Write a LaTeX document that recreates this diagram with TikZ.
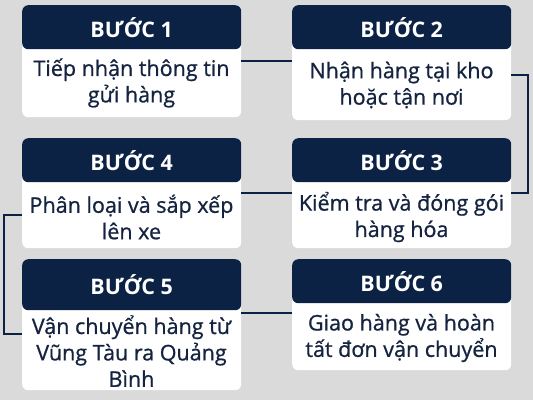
\documentclass[tikz,border=0pt]{standalone}
\usepackage{fontspec}
\setmainfont{Open Sans}
\newfontfamily\medfont{Open Sans}[FakeBold=0.8]
\definecolor{bg}{HTML}{DADADA}
\definecolor{navy}{HTML}{0B2245}
\definecolor{ink}{HTML}{14233F}
\begin{document}
\begin{tikzpicture}[x=1bp,y=-1bp,
  card/.style={fill=white,rounded corners=6bp,draw=none,inner sep=0pt,minimum width=219bp,anchor=north west},
  head/.style={fill=navy,rounded corners=6bp,draw=none,inner sep=0pt,minimum width=219bp,anchor=north west,
    text=white,font=\fontsize{21.5}{24}\selectfont\bfseries},
  bodytext/.style={align=center,text=ink,inner sep=0pt,font=\medfont\fontsize{21.6}{26.5}\selectfont},
  link/.style={draw=navy,line width=2bp}]
\fill[bg] (0,0) rectangle (533,400);
\useasboundingbox (0,0) rectangle (533,400);
% cards
\node[card,minimum height=112bp] (b1) at (22,5) {};
\node[card,minimum height=115bp] (b2) at (292,5) {};
\node[card,minimum height=110bp] (b3) at (292,138) {};
\node[card,minimum height=110bp] (b4) at (22,138) {};
\node[card,minimum height=131bp] (b5) at (22,259) {};
\node[card,minimum height=111bp] (b6) at (292,259) {};
% headers
\node[head,minimum height=44bp] (h1) at (22,5) {BƯỚC 1};
\node[head,minimum height=44bp] (h2) at (292,5) {BƯỚC 2};
\node[head,minimum height=44bp] (h3) at (292,138) {BƯỚC 3};
\node[head,minimum height=44bp] (h4) at (22,138) {BƯỚC 4};
\node[head,minimum height=51bp] (h5) at (22,259) {BƯỚC 5};
\node[head,minimum height=44bp] (h6) at (292,259) {BƯỚC 6};
% body texts
\node[bodytext] (t1) at (131.5,83) {Tiếp nhận thông tin\\gửi hàng};
\node[bodytext] (t2) at (401.5,85) {Nhận hàng tại kho\\hoặc tận nơi};
\node[bodytext] (t3) at (401.5,217) {Kiểm tra và đóng gói\\hàng hóa};
\node[bodytext] (t4) at (131.5,217) {Phân loại và sắp xếp\\lên xe};
\node[bodytext] (t5) at (131.5,351) {Vận chuyển hàng từ\\Vũng Tàu ra Quảng\\Bình};
\node[bodytext] (t6) at (401.5,338) {Giao hàng và hoàn\\tất đơn vận chuyển};
% connector levels
\coordinate (y12) at (0,61);
\coordinate (y2) at (0,75);
\coordinate (y34) at (0,193);
\coordinate (y4) at (0,215);
\coordinate (y5) at (0,334);
\coordinate (y56) at (0,313);
\coordinate (rx) at (528,0);
\coordinate (lx) at (4,0);
% connectors
\draw[link] (b1.east |- y12) -- (b2.west |- y12);
\draw[link] (b2.east |- y2) -- (rx |- y2) -- (rx |- y34) -- (b3.east |- y34);
\draw[link] (b3.west |- y34) -- (b4.east |- y34);
\draw[link] (b4.west |- y4) -- (lx |- y4) -- (lx |- y5) -- (b5.west |- y5);
\draw[link] (b5.east |- y56) -- (b6.west |- y56);
\end{tikzpicture}
\end{document}
